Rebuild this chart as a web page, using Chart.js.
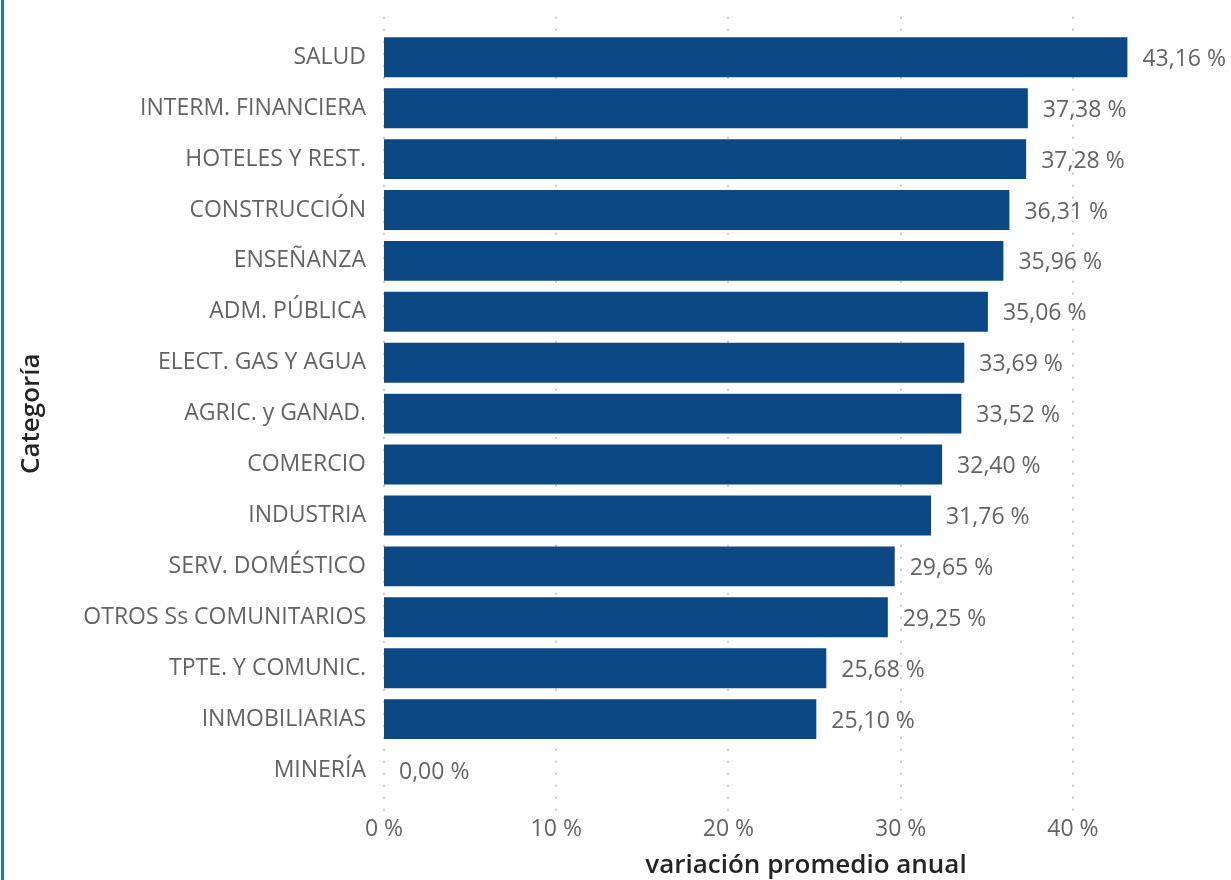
<!DOCTYPE html>
<html>
<head>
<meta charset="utf-8">
<script src="https://cdn.jsdelivr.net/npm/chart.js@4"></script>
<style>
  html, body { margin: 0; padding: 0; background: #fff; overflow: hidden; }
  #wrap { position: relative; width: 1231px; height: 880px; }
  #edge { position: absolute; left: 1px; top: 0; width: 3px; height: 880px; background: #1f72d8; z-index: 2; }
</style>
</head>
<body>
<div id="wrap">
  <div id="edge"></div>
  <canvas id="c" width="1231" height="880"></canvas>
</div>
<script>
const categories = ["SALUD", "INTERM. FINANCIERA", "HOTELES Y REST.", "CONSTRUCCIÓN", "ENSEÑANZA", "ADM. PÚBLICA", "ELECT. GAS Y AGUA", "AGRIC. y GANAD.", "COMERCIO", "INDUSTRIA", "SERV. DOMÉSTICO", "OTROS Ss COMUNITARIOS", "TPTE. Y COMUNIC.", "INMOBILIARIAS", "MINERÍA"];
const values = [43.16, 37.38, 37.28, 36.31, 35.96, 35.06, 33.69, 33.52, 32.40, 31.76, 29.65, 29.25, 25.68, 25.10, 0.00];
const xTicks = [0, 10, 20, 30, 40];
const xTitle = "variación promedio anual";
const yTitle = "Categoría";

const labelFont = "'Open Sans', 'Noto Sans', sans-serif";
const titleFont = "'Open Sans', 'Noto Sans', sans-serif";

const gridPlugin = {
  id: 'dotGrid',
  beforeDatasetsDraw(chart) {
    const {ctx, chartArea, scales} = chart;
    const xs = scales.x;
    ctx.save();
    ctx.strokeStyle = '#c8c8c8';
    ctx.lineWidth = 2;
    ctx.setLineDash([2, 10]);
    xs.ticks.forEach(t => {
      const px = Math.round(xs.getPixelForValue(t.value));
      ctx.beginPath();
      ctx.moveTo(px, chartArea.top - 15);
      ctx.lineTo(px, chartArea.bottom + 15);
      ctx.stroke();
    });
    ctx.restore();
  }
};

const valueLabels = {
  id: 'valueLabels',
  afterDatasetsDraw(chart) {
    const {ctx} = chart;
    const meta = chart.getDatasetMeta(0);
    ctx.save();
    ctx.font = "23px " + labelFont;
    ctx.fillStyle = '#636363';
    ctx.textAlign = 'left';
    ctx.textBaseline = 'middle';
    meta.data.forEach((el, i) => {
      const v = chart.data.datasets[0].data[i];
      const txt = v.toFixed(2).replace('.', ',') + ' %';
      ctx.fillText(txt, el.x + 15, el.y + 2);
    });
    ctx.restore();
  }
};

new Chart(document.getElementById('c'), {
  type: 'bar',
  data: {
    labels: categories,
    datasets: [{
      data: values,
      backgroundColor: '#0b4884',
      borderWidth: 0,
      categoryPercentage: 1.0,
      barPercentage: 0.784
    }]
  },
  options: {
    indexAxis: 'y',
    responsive: false,
    animation: false,
    devicePixelRatio: 1,
    layout: { padding: { top: 30.5, left: 10, right: 3, bottom: 0 } },
    plugins: { legend: { display: false }, tooltip: { enabled: false } },
    scales: {
      x: {
        min: 0,
        max: 49,
        afterBuildTicks(scale) { scale.ticks = xTicks.map(v => ({ value: v })); },
        afterFit(scale) { scale.height = 84.5; },
        grid: { display: false, drawTicks: false },
        border: { display: false },
        ticks: {
          padding: 20,
          color: '#636363',
          font: { family: labelFont, size: 23 },
          callback: v => v + ' %'
        },
        title: {
          display: true,
          text: xTitle,
          color: '#252423',
          font: { family: titleFont, size: 26, weight: '600' },
          padding: { top: 0, bottom: -1 }
        }
      },
      y: {
        afterFit(scale) { scale.width = 374; },
        grid: { display: false, drawTicks: false },
        border: { display: false },
        ticks: {
          padding: 18,
          color: '#636363',
          font: { family: labelFont, size: 23 }
        },
        title: {
          display: true,
          text: yTitle,
          color: '#252423',
          font: { family: titleFont, size: 26, weight: '600' },
          padding: { top: 6, bottom: 0 }
        }
      }
    }
  },
  plugins: [gridPlugin, valueLabels]
});
</script>
</body>
</html>
